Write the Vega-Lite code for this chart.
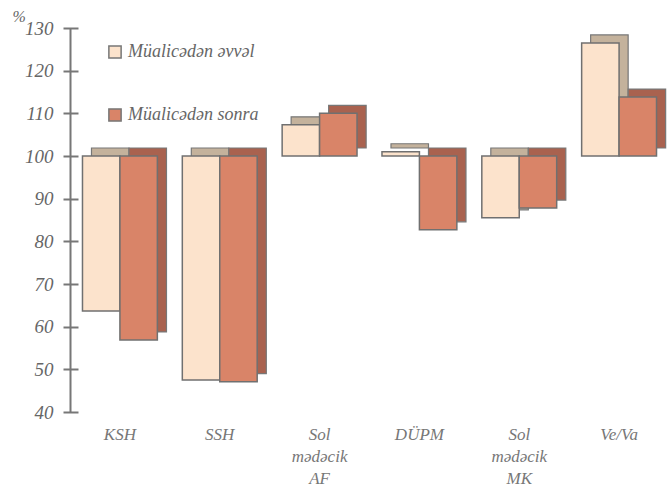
{
  "$schema": "https://vega.github.io/schema/vega-lite/v6.json",
  "width": 599,
  "height": 384,
  "autosize": "none",
  "padding": {"left": 70, "top": 28, "right": 0, "bottom": 81},
  "background": "white",
  "config": {"view": {"stroke": null}, "font": "DejaVu Serif, serif"},
  "data": {
    "values": [
      {"cat": "KSH", "series": "Müalicədən əvvəl", "value": 63.7},
      {"cat": "KSH", "series": "Müalicədən sonra", "value": 56.9},
      {"cat": "SSH", "series": "Müalicədən əvvəl", "value": 47.5},
      {"cat": "SSH", "series": "Müalicədən sonra", "value": 47.1},
      {"cat": "Sol mədəcik AF", "series": "Müalicədən əvvəl", "value": 107.3},
      {"cat": "Sol mədəcik AF", "series": "Müalicədən sonra", "value": 110},
      {"cat": "DÜPM", "series": "Müalicədən əvvəl", "value": 101},
      {"cat": "DÜPM", "series": "Müalicədən sonra", "value": 82.7},
      {"cat": "Sol mədəcik MK", "series": "Müalicədən əvvəl", "value": 85.5},
      {"cat": "Sol mədəcik MK", "series": "Müalicədən sonra", "value": 87.8},
      {"cat": "Ve/Va", "series": "Müalicədən əvvəl", "value": 126.5},
      {"cat": "Ve/Va", "series": "Müalicədən sonra", "value": 113.8}
    ]
  },
  "encoding": {
    "x": {
      "field": "cat", "type": "nominal", "sort": null,
      "scale": {"paddingInner": 0.25, "paddingOuter": 0.125},
      "axis": {
        "title": null, "domain": false, "ticks": false, "labelAngle": 0,
        "labelExpr": "split(datum.value, ' ')",
        "labelFont": "Liberation Serif, DejaVu Serif, serif", "labelFontStyle": "italic",
        "labelFontSize": 17, "labelColor": "#777", "labelLineHeight": 22,
        "labelPadding": 14
      }
    },
    "y2": {"datum": 100}
  },
  "layer": [
    {
      "mark": {"type": "bar", "yOffset": -8, "y2Offset": -8, "stroke": "#777", "strokeWidth": 1.2},
      "encoding": {
        "xOffset": {
          "field": "series", "type": "nominal", "sort": null,
          "scale": {"range": [9, 84], "paddingInner": 0, "paddingOuter": 0}
        },
        "y": {
          "field": "value", "type": "quantitative",
          "scale": {"domain": [40, 130], "nice": false, "zero": false},
          "axis": {"orient": "left", "domain": true, "domainColor": "#777", "domainWidth": 2, "ticks": false, "labels": false, "grid": false, "title": null}
        },
        "color": {
          "field": "series", "type": "nominal", "sort": null,
          "scale": {"range": ["#c4b29c", "#a9624f"]},
          "legend": null
        }
      }
    },
    {
      "mark": {"type": "bar", "stroke": "#707070", "strokeWidth": 1.5},
      "encoding": {
        "xOffset": {
          "field": "series", "type": "nominal", "sort": null,
          "scale": {"paddingInner": 0, "paddingOuter": 0}
        },
        "y": {
          "field": "value", "type": "quantitative",
          "scale": {"domain": [40, 130], "nice": false, "zero": false},
          "axis": {
            "orient": "left", "offset": -8, "domain": false, "grid": false,
            "tickSize": 15, "tickColor": "#777", "tickWidth": 2,
            "values": [40, 50, 60, 70, 80, 90, 100, 110, 120, 130],
            "labelFont": "Liberation Serif, DejaVu Serif, serif", "labelFontStyle": "italic",
            "labelFontSize": 19, "labelColor": "#666", "labelPadding": 10,
            "title": "%", "titleAngle": 0, "titleX": -66, "titleY": -4,
            "titleAlign": "left", "titleBaseline": "bottom",
            "titleFont": "Liberation Serif, DejaVu Serif, serif", "titleFontStyle": "italic",
            "titleFontWeight": "normal", "titleFontSize": 16, "titleColor": "#666"
          }
        },
        "color": {
          "field": "series", "type": "nominal", "sort": null,
          "scale": {"range": ["#fce3cc", "#d98468"]},
          "legend": {
            "title": null, "orient": "none", "legendX": 36, "legendY": 15,
            "direction": "vertical", "symbolType": "square", "symbolSize": 150,
            "symbolStrokeColor": "#777", "symbolStrokeWidth": 1.5,
            "labelFont": "Liberation Serif, DejaVu Serif, serif", "labelFontStyle": "italic",
            "labelFontSize": 18, "labelColor": "#666", "rowPadding": 43,
            "labelOffset": 4
          }
        }
      }
    }
  ],
  "resolve": {"scale": {"color": "independent", "xOffset": "independent"}, "axis": {"y": "independent"}}
}
